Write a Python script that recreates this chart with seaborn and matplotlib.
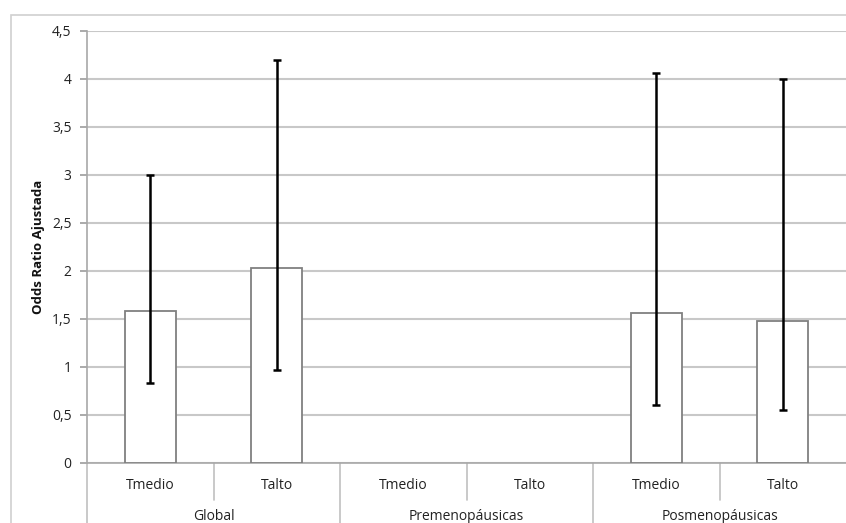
import numpy as np
import pandas as pd

import matplotlib.pyplot as plt
import matplotlib.patches as mpatches
import seaborn as sns

# data
groups = ['Global', 'Premenopáusicas', 'Posmenopáusicas']
subgroups = ['Tmedio', 'Talto']
odds_ratio = [1.58, 2.03, np.nan, np.nan, 1.56, 1.48]
ci_low = [0.83, 0.97, np.nan, np.nan, 0.60, 0.55]
ci_high = [3.00, 4.20, np.nan, np.nan, 4.06, 4.00]
y_ticks = [0, 0.5, 1, 1.5, 2, 2.5, 3, 3.5, 4, 4.5]

labels = [g + ' ' + s for g in groups for s in subgroups]
df = pd.DataFrame({'cat': labels, 'odds': odds_ratio,
                   'low': ci_low, 'high': ci_high})

sns.set_theme(style='white')
plt.rcParams['font.family'] = ['Open Sans', 'DejaVu Sans']

fig = plt.figure(figsize=(8.46, 5.23), dpi=100)
ax = fig.add_axes([87 / 846, 1 - 463 / 523, 1 - 87 / 846, 432 / 523])

# outer chart frame
fig.patches.append(mpatches.Rectangle((11 / 846, -0.1), 1.2, 1 - 15 / 523 + 0.1,
                                      transform=fig.transFigure, fill=False,
                                      edgecolor='#d0d0d0', linewidth=1.2, zorder=0))

sns.barplot(data=df, x='cat', y='odds', order=labels, ax=ax, width=0.4,
            color='white', edgecolor='#808080', linewidth=1.3, errorbar=None,
            zorder=3)

pos = np.arange(len(labels))
valid = ~df['odds'].isna().to_numpy()
yerr = np.vstack([df['odds'] - df['low'], df['high'] - df['odds']])
ax.errorbar(pos[valid], df['odds'][valid], yerr=yerr[:, valid], fmt='none',
            ecolor='black', elinewidth=1.8, capsize=2.6, capthick=1.8, zorder=4)

ax.set_ylim(0, 4.5)
ax.set_xlim(-0.5, len(labels) - 0.5)
ax.set_yticks(y_ticks)
ax.set_yticklabels([('%g' % t).replace('.', ',') for t in y_ticks])
ax.yaxis.grid(True, color='#c8c8c8', linewidth=1.5)
ax.set_axisbelow(True)
ax.tick_params(axis='y', left=True, length=5, color='#a0a0a0',
               labelsize=10, labelcolor='#222222', pad=6)
ax.set_xticks([])
ax.set_xlabel('')
ax.set_ylabel('Odds Ratio Ajustada', fontsize=9.5, fontweight='bold',
              color='#111111', labelpad=5)

for side in ['top', 'right']:
    ax.spines[side].set_visible(False)
ax.spines['left'].set_color('#a8a8a8')
ax.spines['bottom'].set_color('#a8a8a8')
ax.spines['left'].set_linewidth(1.2)
ax.spines['bottom'].set_linewidth(1.2)

# two-level category axis
tr = ax.get_xaxis_transform()
for i, lab in enumerate(labels):
    ax.text(i, -0.052, subgroups[i % 2], transform=tr, ha='center', va='center',
            fontsize=10, color='#222222')
for j, g in enumerate(groups):
    ax.text(2 * j + 0.5, -0.123, g, transform=tr, ha='center', va='center',
            fontsize=10, color='#222222')
    ax.plot([2 * j - 0.5] * 2, [0, -0.2], transform=tr, color='#c0c0c0',
            linewidth=1.2, clip_on=False)
    ax.plot([2 * j + 0.5] * 2, [0, -0.086], transform=tr, color='#c0c0c0',
            linewidth=1.2, clip_on=False)

fig.savefig('out.png', dpi=100)
